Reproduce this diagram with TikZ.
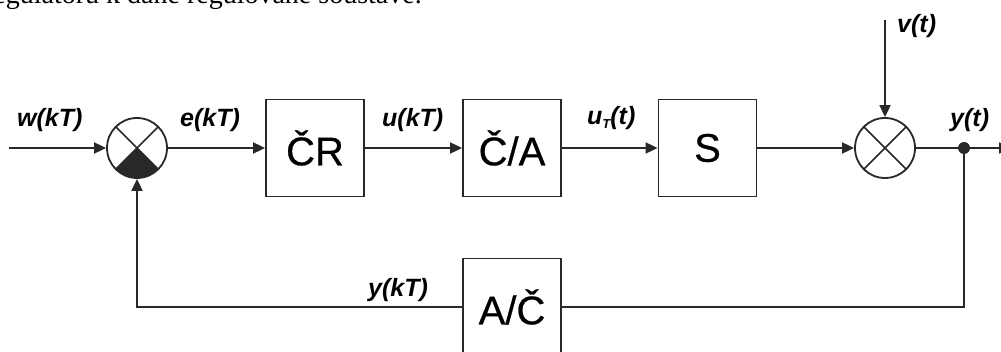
\documentclass[tikz,border=0pt]{standalone}
\usepackage{fontspec}
\setmainfont{Liberation Sans}
\newfontfamily\bodyserif{Liberation Serif}
\newfontfamily\blockfont[FakeBold=0.6]{Liberation Sans}
\usetikzlibrary{arrows.meta}
\definecolor{ink}{RGB}{40,40,40}
\begin{document}
\begin{tikzpicture}[x=1pt,y=-1pt,
  wire/.style={draw=ink, line width=1.8pt},
  arr/.style={wire, -{Triangle[length=12pt,width=11pt]}},
  block/.style={draw=ink, line width=1.8pt, minimum width=98pt, minimum height=97pt,
    inner sep=0pt, font=\blockfont\fontsize{40}{40}\selectfont},
  summer/.style={circle, draw=ink, line width=1.8pt, minimum size=60pt, inner sep=0pt,
    path picture={
      \draw[ink, line width=1.6pt]
        (path picture bounding box.north east) -- (path picture bounding box.south west)
        (path picture bounding box.north west) -- (path picture bounding box.south east);}},
  summerfilled/.style={summer,
    path picture={
      \fill[ink] (path picture bounding box.center) -- (path picture bounding box.south west)
        -- (path picture bounding box.south east) -- cycle;
      \draw[ink, line width=1.6pt]
        (path picture bounding box.north east) -- (path picture bounding box.south west)
        (path picture bounding box.north west) -- (path picture bounding box.south east);}},
  sig/.style={inner sep=0pt, anchor=base west, font=\fontsize{25}{25}\selectfont\bfseries\itshape},
  joint/.style={circle, fill=ink, minimum size=12pt, inner sep=0pt},
]
\useasboundingbox (0,0) rectangle (1001,352);
\clip (0,0) rectangle (1001,352);

% line of running text above the figure
\node[anchor=base east, inner sep=0pt, font=\bodyserif\fontsize{28}{28}\selectfont] (cap)
  at (422,4) {regulátoru k dané regulované soustavě.};

% summing junctions and blocks
\node[summerfilled] (s1) at (137,148) {};
\node[summer] (s2) at (885,148) {};
\node[block] (cr) at (315,148) {ČR};
\node[block] (ca) at (512,148) {Č/A};
\node[block] (sy) at (707.5,148) {S};
\node[block] (ad) at (512,307) {A/Č};
\node[joint] (br) at (964,148) {};

\coordinate (win) at (9,148);
\coordinate (vin) at (885,20);
\coordinate (yout) at (1011,148);
\coordinate (fr) at (964,307);
\coordinate (fl) at (137,307);

% forward path
\draw[arr] (win) -- (s1);
\draw[arr] (s1) -- (cr);
\draw[arr] (cr) -- (ca);
\draw[arr] (ca) -- (sy);
\draw[arr] (sy) -- (s2);
\draw[arr] (vin) -- (s2);
\draw[arr] (s2) -- (yout);

% feedback path
\draw[wire] (br.center) -- (fr) -- (ad);
\draw[arr] (ad) -- (fl) -- (s1);

% signal labels
\node[sig] (lw) at (17,127) {w(kT)};
\node[sig] (le) at (180,127) {e(kT)};
\node[sig] (lu) at (382,127) {u(kT)};
\node[sig] (lut) at (587,125) {u\raisebox{-4pt}{\fontsize{13}{13}\selectfont T}(t)};
\node[sig] (lv) at (897,33) {v(t)};
\node[sig] (ly) at (950,127) {y(t)};
\node[sig] (lyk) at (368,297) {y(kT)};
\end{tikzpicture}
\end{document}
